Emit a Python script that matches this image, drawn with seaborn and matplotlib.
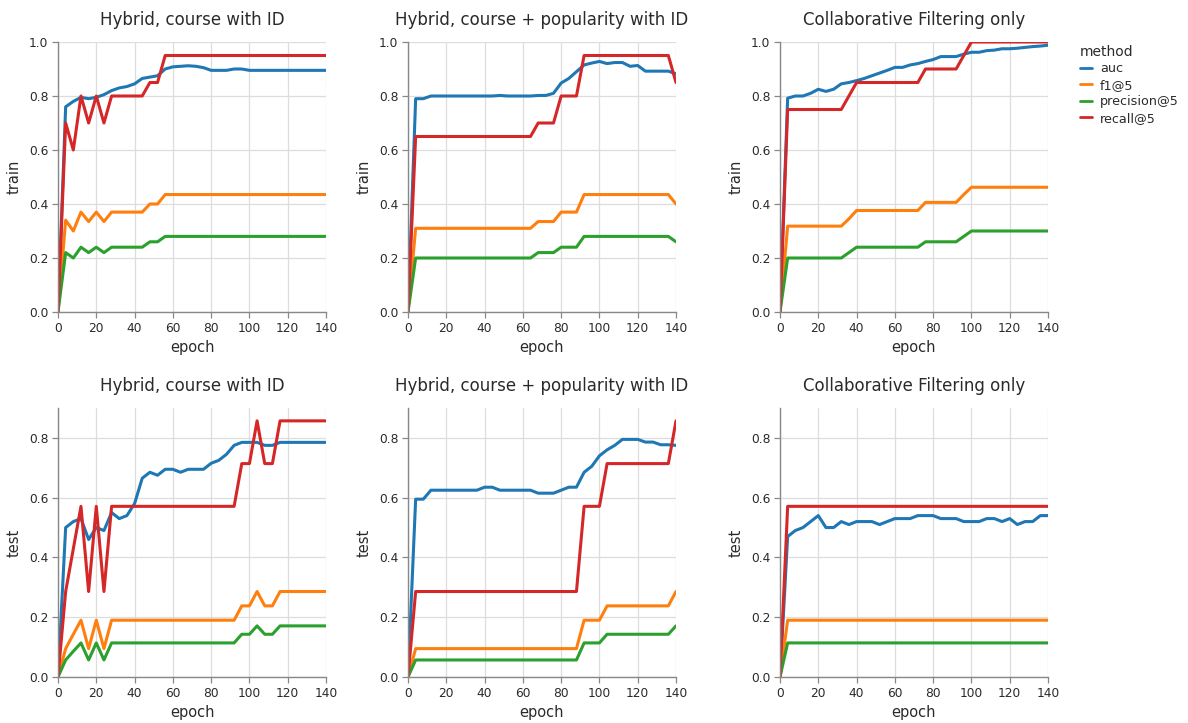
import matplotlib
matplotlib.use("Agg")
import matplotlib.pyplot as plt
from matplotlib.lines import Line2D
import pandas as pd
import seaborn as sns

# ---------------- data ----------------
epochs = [0, 4, 8, 12, 16, 20, 24, 28, 32, 36, 40, 44, 48, 52, 56, 60, 64, 68,
          72, 76, 80, 84, 88, 92, 96, 100, 104, 108, 112, 116, 120, 124, 128, 132, 136, 140]

methods = ["auc", "f1@5", "precision@5", "recall@5"]
colors = ["#1f77b4", "#ff7f0e", "#2ca02c", "#d62728"]
models = ["Hybrid, course with ID", "Hybrid, course + popularity with ID", "Collaborative Filtering only"]
splits = ["train", "test"]

# train / Hybrid, course with ID
train_hyb_auc = [0, .76, .78, .795, .79, .795, .805, .82, .83, .835, .845, .865,
                 .87, .875, .90, .908, .91, .912, .91, .905, .895, .895, .895, .90,
                 .90, .895, .895, .895, .895, .895, .895, .895, .895, .895, .895, .895]
train_hyb_f1 = [0, .34, .30, .37, .335, .37, .335, .37, .37, .37, .37, .37,
                .40, .40, .435, .435, .435, .435, .435, .435, .435, .435, .435, .435,
                .435, .435, .435, .435, .435, .435, .435, .435, .435, .435, .435, .435]
train_hyb_prec = [0, .22, .20, .24, .22, .24, .22, .24, .24, .24, .24, .24,
                  .26, .26, .28, .28, .28, .28, .28, .28, .28, .28, .28, .28,
                  .28, .28, .28, .28, .28, .28, .28, .28, .28, .28, .28, .28]
train_hyb_rec = [0, .70, .60, .80, .70, .80, .70, .80, .80, .80, .80, .80,
                 .85, .85, .95, .95, .95, .95, .95, .95, .95, .95, .95, .95,
                 .95, .95, .95, .95, .95, .95, .95, .95, .95, .95, .95, .95]

# train / Hybrid, course + popularity with ID
train_pop_auc = [0, .79, .79, .80, .80, .80, .80, .80, .80, .80, .80, .80,
                 .802, .80, .80, .80, .80, .802, .802, .81, .848, .865, .89, .915,
                 .922, .928, .92, .924, .924, .91, .913, .892, .892, .892, .892, .882]
train_pop_f1 = [0, .31, .31, .31, .31, .31, .31, .31, .31, .31, .31, .31,
                .31, .31, .31, .31, .31, .335, .335, .335, .37, .37, .37, .435,
                .435, .435, .435, .435, .435, .435, .435, .435, .435, .435, .435, .40]
train_pop_prec = [0, .20, .20, .20, .20, .20, .20, .20, .20, .20, .20, .20,
                  .20, .20, .20, .20, .20, .22, .22, .22, .24, .24, .24, .28,
                  .28, .28, .28, .28, .28, .28, .28, .28, .28, .28, .28, .26]
train_pop_rec = [0, .65, .65, .65, .65, .65, .65, .65, .65, .65, .65, .65,
                 .65, .65, .65, .65, .65, .70, .70, .70, .80, .80, .80, .95,
                 .95, .95, .95, .95, .95, .95, .95, .95, .95, .95, .95, .85]

# train / Collaborative Filtering only
train_cf_auc = [0, .792, .80, .80, .81, .825, .817, .825, .845, .85, .857, .865,
                .875, .885, .895, .906, .906, .915, .92, .928, .935, .946, .946, .946,
                .955, .962, .962, .968, .97, .975, .975, .977, .98, .983, .985, .988]
train_cf_f1 = [0, .318, .318, .318, .318, .318, .318, .318, .318, .345, .376, .376,
               .376, .376, .376, .376, .376, .376, .376, .406, .406, .406, .406, .406,
               .435, .462, .462, .462, .462, .462, .462, .462, .462, .462, .462, .462]
train_cf_prec = [0, .20, .20, .20, .20, .20, .20, .20, .20, .22, .24, .24,
                 .24, .24, .24, .24, .24, .24, .24, .26, .26, .26, .26, .26,
                 .28, .30, .30, .30, .30, .30, .30, .30, .30, .30, .30, .30]
train_cf_rec = [0, .75, .75, .75, .75, .75, .75, .75, .75, .80, .85, .85,
                .85, .85, .85, .85, .85, .85, .85, .90, .90, .90, .90, .90,
                .95, 1.0, 1.0, 1.0, 1.0, 1.0, 1.0, 1.0, 1.0, 1.0, 1.0, 1.0]

# test / Hybrid, course with ID
test_hyb_auc = [0, .50, .52, .53, .46, .50, .49, .55, .53, .54, .58, .665,
                .685, .675, .695, .695, .685, .695, .695, .695, .715, .725, .745, .775,
                .785, .785, .785, .775, .775, .785, .785, .785, .785, .785, .785, .785]
test_hyb_f1 = [0, .095, .143, .19, .095, .19, .095, .19, .19, .19, .19, .19,
               .19, .19, .19, .19, .19, .19, .19, .19, .19, .19, .19, .19,
               .238, .238, .286, .238, .238, .286, .286, .286, .286, .286, .286, .286]
test_hyb_prec = [0, .057, .086, .114, .057, .114, .057, .114, .114, .114, .114, .114,
                 .114, .114, .114, .114, .114, .114, .114, .114, .114, .114, .114, .114,
                 .143, .143, .171, .143, .143, .171, .171, .171, .171, .171, .171, .171]
test_hyb_rec = [0, .286, .429, .571, .286, .571, .286, .571, .571, .571, .571, .571,
                .571, .571, .571, .571, .571, .571, .571, .571, .571, .571, .571, .571,
                .714, .714, .857, .714, .714, .857, .857, .857, .857, .857, .857, .857]

# test / Hybrid, course + popularity with ID
test_pop_auc = [0, .595, .595, .625, .625, .625, .625, .625, .625, .625, .635, .635,
                .625, .625, .625, .625, .625, .615, .615, .615, .625, .635, .635, .685,
                .705, .74, .76, .775, .795, .795, .795, .786, .786, .777, .777, .775]
test_pop_f1 = [0, .095, .095, .095, .095, .095, .095, .095, .095, .095, .095, .095,
               .095, .095, .095, .095, .095, .095, .095, .095, .095, .095, .095, .19,
               .19, .19, .238, .238, .238, .238, .238, .238, .238, .238, .238, .286]
test_pop_prec = [0, .057, .057, .057, .057, .057, .057, .057, .057, .057, .057, .057,
                 .057, .057, .057, .057, .057, .057, .057, .057, .057, .057, .057, .114,
                 .114, .114, .143, .143, .143, .143, .143, .143, .143, .143, .143, .171]
test_pop_rec = [0, .286, .286, .286, .286, .286, .286, .286, .286, .286, .286, .286,
                .286, .286, .286, .286, .286, .286, .286, .286, .286, .286, .286, .571,
                .571, .571, .714, .714, .714, .714, .714, .714, .714, .714, .714, .857]

# test / Collaborative Filtering only
test_cf_auc = [0, .47, .49, .50, .52, .54, .50, .50, .52, .51, .52, .52,
               .52, .51, .52, .53, .53, .53, .54, .54, .54, .53, .53, .53,
               .52, .52, .52, .53, .53, .52, .53, .51, .52, .52, .54, .54]
test_cf_f1 = [0, .19, .19, .19, .19, .19, .19, .19, .19, .19, .19, .19,
              .19, .19, .19, .19, .19, .19, .19, .19, .19, .19, .19, .19,
              .19, .19, .19, .19, .19, .19, .19, .19, .19, .19, .19, .19]
test_cf_prec = [0, .114, .114, .114, .114, .114, .114, .114, .114, .114, .114, .114,
                .114, .114, .114, .114, .114, .114, .114, .114, .114, .114, .114, .114,
                .114, .114, .114, .114, .114, .114, .114, .114, .114, .114, .114, .114]
test_cf_rec = [0, .571, .571, .571, .571, .571, .571, .571, .571, .571, .571, .571,
               .571, .571, .571, .571, .571, .571, .571, .571, .571, .571, .571, .571,
               .571, .571, .571, .571, .571, .571, .571, .571, .571, .571, .571, .571]

series = {
    ("train", models[0]): [train_hyb_auc, train_hyb_f1, train_hyb_prec, train_hyb_rec],
    ("train", models[1]): [train_pop_auc, train_pop_f1, train_pop_prec, train_pop_rec],
    ("train", models[2]): [train_cf_auc, train_cf_f1, train_cf_prec, train_cf_rec],
    ("test", models[0]): [test_hyb_auc, test_hyb_f1, test_hyb_prec, test_hyb_rec],
    ("test", models[1]): [test_pop_auc, test_pop_f1, test_pop_prec, test_pop_rec],
    ("test", models[2]): [test_cf_auc, test_cf_f1, test_cf_prec, test_cf_rec],
}

rows = []
for (split, model), vals in series.items():
    for m, v in zip(methods, vals):
        for e, y in zip(epochs, v):
            rows.append({"split": split, "model": model, "method": m, "epoch": e, "value": y})
df = pd.DataFrame(rows)

# ---------------- style ----------------
sns.set_theme(style="white")
plt.rcParams["font.family"] = ["DejaVu Sans"]

W, H = 1188, 723
fig = plt.figure(figsize=(W / 100, H / 100), dpi=100)

col_left = [58, 408, 780]
col_w = 268
row_top = [42, 408]
row_bot = [312, 677]
ylims = [1.0, 0.9]

txt = "#2a2a2a"
axc = "#888888"
gridc = "#dddddd"

for r, split in enumerate(splits):
    for c, model in enumerate(models):
        l = col_left[c]
        t = row_top[r]
        b = row_bot[r]
        ax = fig.add_axes([l / W, 1 - b / H, col_w / W, (b - t) / H])
        sub = df[(df.split == split) & (df.model == model)]
        sns.lineplot(data=sub, x="epoch", y="value", hue="method", hue_order=methods,
                     palette=colors, linewidth=2.2, estimator=None, legend=False, ax=ax)
        ax.set_xlim(0, 140)
        ax.set_ylim(0, ylims[r])
        ax.set_xticks(range(0, 141, 20))
        ax.set_yticks([0, 0.2, 0.4, 0.6, 0.8, 1.0] if r == 0 else [0, 0.2, 0.4, 0.6, 0.8])
        ax.set_yticklabels([f"{v:.1f}" for v in ax.get_yticks()])
        ax.grid(True, color=gridc, linewidth=0.9)
        ax.set_axisbelow(True)
        for s in ["top", "right"]:
            ax.spines[s].set_visible(False)
        for s in ["left", "bottom"]:
            ax.spines[s].set_color(axc)
            ax.spines[s].set_linewidth(1.0)
        ax.tick_params(axis="both", direction="out", length=4.5, width=0.9, color=axc,
                       labelsize=8.8, labelcolor=txt, pad=2.5, bottom=True, left=True)
        ax.set_xlabel("epoch", fontsize=10.5, color=txt, labelpad=4)
        ax.set_ylabel(split, fontsize=10.5, color=txt, labelpad=5)
        ax.set_title(model, fontsize=12, color=txt, pad=12)

handles = [Line2D([0], [0], color=col, lw=2) for col in colors]
leg = fig.legend(handles, methods, loc="upper left", bbox_to_anchor=(1068 / W, 1 - 33 / H),
                 frameon=False, title="method", fontsize=9.2, handlelength=1.0,
                 handletextpad=0.6, labelspacing=0.28, alignment="left")
leg.get_title().set_fontsize(10)
leg.get_title().set_color(txt)
for tx in leg.get_texts():
    tx.set_color(txt)

fig.savefig("out.png", dpi=100)
